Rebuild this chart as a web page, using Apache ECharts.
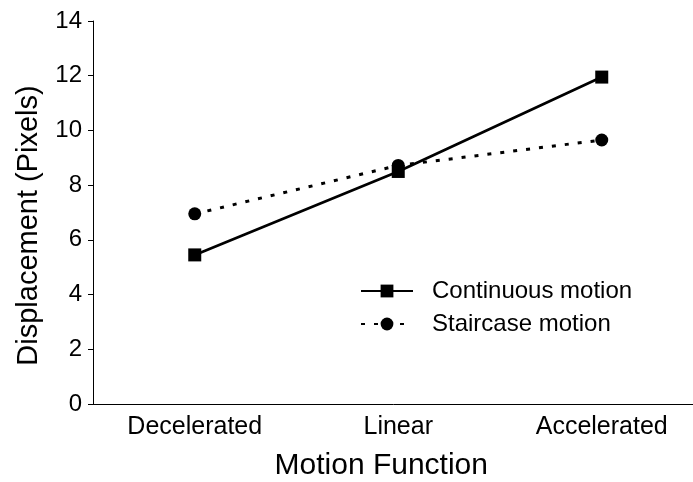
<!DOCTYPE html>
<html>
<head>
<meta charset="utf-8">
<script src="https://cdn.jsdelivr.net/npm/echarts@6/dist/echarts.min.js"></script>
<style>html,body{margin:0;padding:0;background:#fff}#c{width:693px;height:482px}</style>
</head>
<body>
<div id="c"></div>
<script>
var categories = ['Decelerated', 'Linear', 'Accelerated'];
var continuousMotion = [5.45, 8.5, 11.95];
var staircaseMotion = [6.95, 8.72, 9.65];
var seriesNames = ['Continuous motion', 'Staircase motion'];
var yAxisTitle = 'Displacement (Pixels)';
var xAxisTitle = 'Motion Function';

var FONT = '"Liberation Sans", Arial, Helvetica, sans-serif';
var chart = echarts.init(document.getElementById('c'), null, {renderer: 'canvas'});
chart.setOption({
  animation: false,
  backgroundColor: '#ffffff',
  textStyle: {fontFamily: FONT, color: '#000'},
  grid: {left: 93, top: 21, bottom: 78, width: 610.5, containLabel: false, outerBoundsMode: 'none'},
  legend: {
    orient: 'vertical',
    left: 355,
    top: 274,
    itemWidth: 52,
    itemHeight: 16,
    itemGap: 9,
    textStyle: {fontFamily: FONT, fontSize: 24, color: '#000', lineHeight: 24, padding: [0, 0, 0, 14]},
    data: seriesNames
  },
  xAxis: {
    type: 'category',
    data: categories,
    boundaryGap: true,
    name: xAxisTitle,
    nameLocation: 'middle',
    nameGap: 47,
    nameTextStyle: {fontFamily: FONT, fontSize: 30, color: '#000', padding: [0, 34, 0, 0]},
    axisLine: {lineStyle: {color: '#000', width: 1}},
    axisTick: {inside: true, length: 5, alignWithLabel: true, lineStyle: {color: '#000'}},
    axisLabel: {fontFamily: FONT, fontSize: 25, color: '#000', margin: 11},
    splitLine: {show: false}
  },
  yAxis: {
    type: 'value',
    min: 0,
    max: 14,
    interval: 2,
    name: yAxisTitle,
    nameLocation: 'middle',
    nameRotate: 90,
    nameGap: 50,
    nameTextStyle: {fontFamily: FONT, fontSize: 29, color: '#000', padding: [0, 26, 0, 0]},
    axisLine: {show: true, lineStyle: {color: '#000', width: 1}},
    axisTick: {show: true, inside: false, length: 5, lineStyle: {color: '#000'}},
    axisLabel: {fontFamily: FONT, fontSize: 24, color: '#000', margin: 11},
    splitLine: {show: false}
  },
  series: [
    {
      name: seriesNames[0],
      type: 'line',
      data: continuousMotion,
      symbol: 'rect',
      symbolSize: 13,
      lineStyle: {color: '#000', width: 2.7, type: 'solid'},
      itemStyle: {color: '#000'},
      z: 3
    },
    {
      name: seriesNames[1],
      type: 'line',
      data: staircaseMotion,
      symbol: 'circle',
      symbolSize: 13,
      lineStyle: {color: '#000', width: 3, type: [4, 9]},
      itemStyle: {color: '#000'},
      z: 2
    }
  ]
});
</script>
</body>
</html>
